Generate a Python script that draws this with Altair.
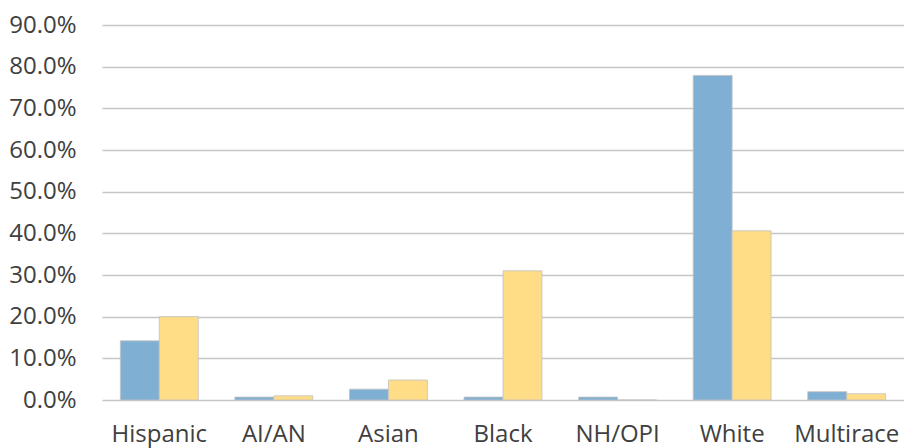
import altair as alt
import pandas as pd

categories = ["Hispanic", "AI/AN", "Asian", "Black", "NH/OPI", "White", "Multirace"]
series_names = ["Series 1", "Series 2"]
series1 = [14.2, 0.7, 2.6, 0.7, 0.7, 77.9, 2.0]
series2 = [20.0, 1.0, 4.8, 31.0, 0.0, 40.6, 1.5]
colors = ["#7FAFD3", "#FFDD87"]

rows = []
for c, a, b in zip(categories, series1, series2):
    rows.append({"cat": c, "series": series_names[0], "value": a / 100})
    rows.append({"cat": c, "series": series_names[1], "value": b / 100})
df = pd.DataFrame(rows)

font = "Open Sans"

chart = alt.Chart(df).mark_bar(stroke="#c2c2c2", strokeWidth=0.8).encode(
    x=alt.X("cat:N", sort=categories, title=None,
            scale=alt.Scale(paddingInner=0.32, paddingOuter=0.16),
            axis=alt.Axis(labelAngle=0, labelFontSize=24, labelColor="#404040",
                          labelFont=font, ticks=False, domain=False,
                          labelPadding=22, grid=False)),
    xOffset=alt.XOffset("series:N", sort=series_names),
    y=alt.Y("value:Q", title=None,
            scale=alt.Scale(domain=[0, 0.9], nice=False),
            axis=alt.Axis(format=".1%", values=[i / 10 for i in range(10)],
                          labelFontSize=24, labelColor="#404040", labelFont=font,
                          ticks=False, domain=False, labelPadding=26,
                          gridColor="#c6c6c6", gridWidth=1.6)),
    color=alt.Color("series:N", sort=series_names,
                    scale=alt.Scale(domain=series_names, range=colors),
                    legend=None),
).properties(
    width=802, height=375,
    autosize=alt.AutoSizeParams(type="none"),
    padding={"left": 94, "top": 17, "right": 0, "bottom": 48},
).configure_view(stroke=None)

chart.save("out.html", embed_options={"renderer": "svg", "actions": False})
